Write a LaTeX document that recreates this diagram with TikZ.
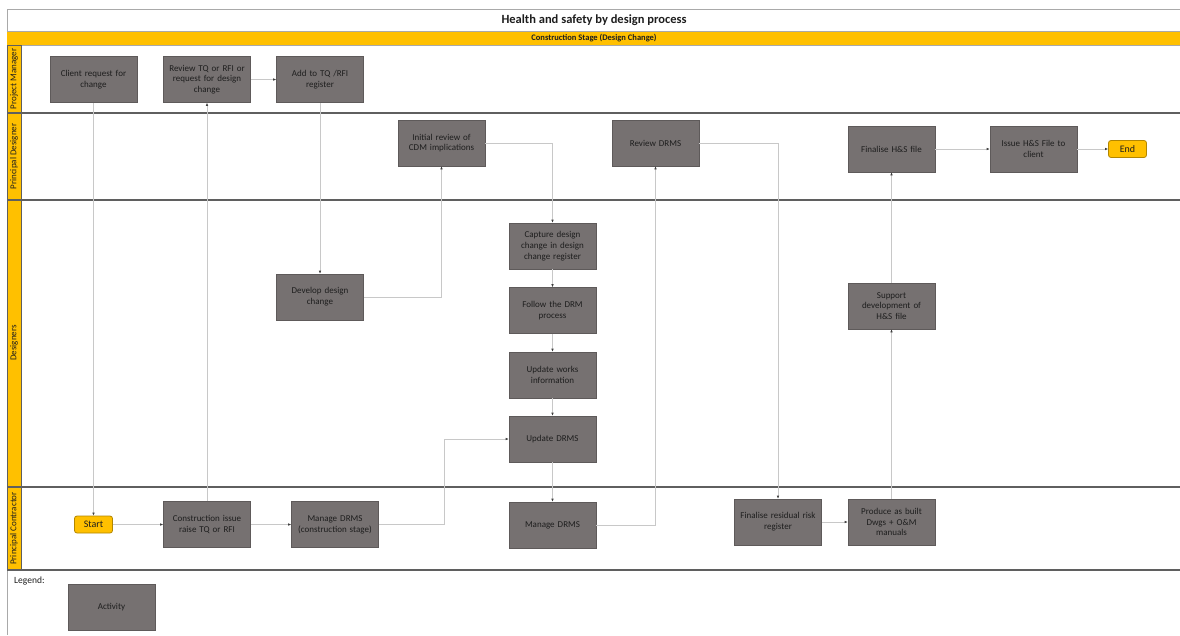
\documentclass[tikz,border=0pt]{standalone}
\usepackage{fontspec}
\setmainfont{Carlito}
\usetikzlibrary{arrows.meta,calc}
\definecolor{ylw}{HTML}{FFC000}
\definecolor{boxfill}{HTML}{767171}
\definecolor{boxline}{HTML}{5E5A5A}
\definecolor{conncol}{HTML}{C8C8C8}
\definecolor{lanecol}{HTML}{5F5F5F}
\definecolor{framecol}{HTML}{A9A9A9}
\definecolor{txt}{HTML}{1E1E1E}
\begin{document}
\begin{tikzpicture}[x=1pt,y=-1pt,
 activity/.style={rectangle, fill=boxfill, draw=boxline, line width=0.6pt, minimum width=87pt, minimum height=46pt, inner sep=1pt, text width=82pt, align=center, font=\fontsize{9}{10.8}\selectfont, text=txt},
 terminal/.style={rectangle, rounded corners=2.5pt, fill=ylw, draw=ylw!70!black, line width=0.8pt, minimum width=38pt, minimum height=17pt, inner sep=0pt, font=\fontsize{10}{11}\selectfont, text=txt},
 conn/.style={draw=conncol, line width=0.8pt, -{Latex[length=3pt,width=2.6pt,color=black!75]}},
 lanelabel/.style={rotate=90, font=\fontsize{9}{10}\selectfont, text=txt},
 lanecell/.style={fill=ylw, draw=lanecol, line width=0.6pt},
 sep/.style={draw=lanecol, line width=1.2pt},
]
\useasboundingbox (0,0) rectangle (1180,635);
\fill[white] (0,0) rectangle (1180,635);
% frame and header
\draw[framecol, line width=0.8pt] (7,9) -- (1180,9);
\draw[framecol, line width=0.8pt] (7,9) -- (7,635);
\fill[ylw] (7,31) rectangle (1180,45);
\draw[framecol, line width=0.8pt] (7,31) -- (1180,31);
\draw[framecol, line width=0.8pt] (7,45) -- (1180,45);
\node[font=\bfseries\fontsize{12.5}{14}\selectfont, text=txt] (title) at (594,20) {Health and safety by design process};
\node[font=\bfseries\fontsize{8.5}{10}\selectfont, text=txt] (stage) at (594,38) {Construction Stage (Design Change)};
% lanes
\draw[lanecell] (7,45) rectangle (21,113);
\draw[lanecell] (7,113) rectangle (21,200);
\draw[lanecell] (7,200) rectangle (21,487);
\draw[lanecell] (7,487) rectangle (21,570);
\draw[sep] (7,113) -- (1180,113);
\draw[sep] (7,200) -- (1180,200);
\draw[sep] (7,487) -- (1180,487);
\draw[sep] (7,570) -- (1180,570);
\node[lanelabel] (lpm) at (14,79) {Project Manager};
\node[lanelabel] (lpd) at (14,156.5) {Principal Designer};
\node[lanelabel] (ldes) at (14,343) {Designers};
\node[lanelabel] (lpc) at (14,528.5) {Principal Contractor};
% activities
\node[activity] (client) at (93.5,79.5) {Client request for\\change};
\node[activity] (review) at (207,79.5) {Review TQ or RFI or\\request for design\\change};
\node[activity] (addtq) at (320,79.5) {Add to TQ /RFI\\register};
\node[activity] (initial) at (441.5,143) {Initial review of\\CDM implications};
\node[activity] (reviewdrms) at (655.5,143) {Review DRMS};
\node[activity] (finhs) at (891.5,149) {Finalise H\&S file};
\node[activity] (issue) at (1033.5,149) {Issue H\&S File to\\client};
\node[terminal] (endn) at (1127.5,149) {End};
\node[activity] (capture) at (552.5,246) {Capture design\\change in design\\change register};
\node[activity] (develop) at (320,297) {Develop design\\change};
\node[activity] (follow) at (552.5,310.5) {Follow the DRM\\process};
\node[activity] (support) at (891.5,306) {Support\\development of\\H\&S file};
\node[activity] (updworks) at (552.5,375) {Update works\\information};
\node[activity] (upddrms) at (552.5,439) {Update DRMS};
\node[terminal] (start) at (93.5,524.5) {Start};
\node[activity] (construct) at (207,524.5) {Construction issue\\raise TQ or RFI};
\node[activity] (managecs) at (335,524.5) {Manage DRMS\\(construction stage)};
\node[activity] (manage) at (552.5,525) {Manage DRMS};
\node[activity] (finres) at (778,522) {Finalise residual risk\\register};
\node[activity] (produce) at (891.5,522) {Produce as built\\Dwgs + O\&M\\manuals};
% legend
\node[anchor=west, inner sep=0pt, font=\fontsize{9.5}{11}\selectfont, text=txt] (legend) at (14,581) {Legend:};
\node[activity] (activity) at (111.5,607.5) {Activity};
% connectors
\coordinate (bend1) at (444,439);
\draw[conn] (client) -- (start);
\draw[conn] (start) -- (construct);
\draw[conn] (construct) -- (review);
\draw[conn] (review) -- (addtq);
\draw[conn] (addtq) -- (develop);
\draw[conn] (develop) -| (initial);
\draw[conn] (initial) -| (capture);
\draw[conn] (capture) -- (follow);
\draw[conn] (follow) -- (updworks);
\draw[conn] (updworks) -- (upddrms);
\draw[conn] (upddrms) -- (manage);
\draw[conn] (construct) -- (managecs);
\draw[conn] (managecs.east) -| (bend1) -- (upddrms.west);
\draw[conn] (manage) -| (reviewdrms);
\draw[conn] (reviewdrms) -| (finres);
\draw[conn] (finres) -- (produce);
\draw[conn] (produce) -- (support);
\draw[conn] (support) -- (finhs);
\draw[conn] (finhs) -- (issue);
\draw[conn] (issue) -- (endn);
\end{tikzpicture}
\end{document}
